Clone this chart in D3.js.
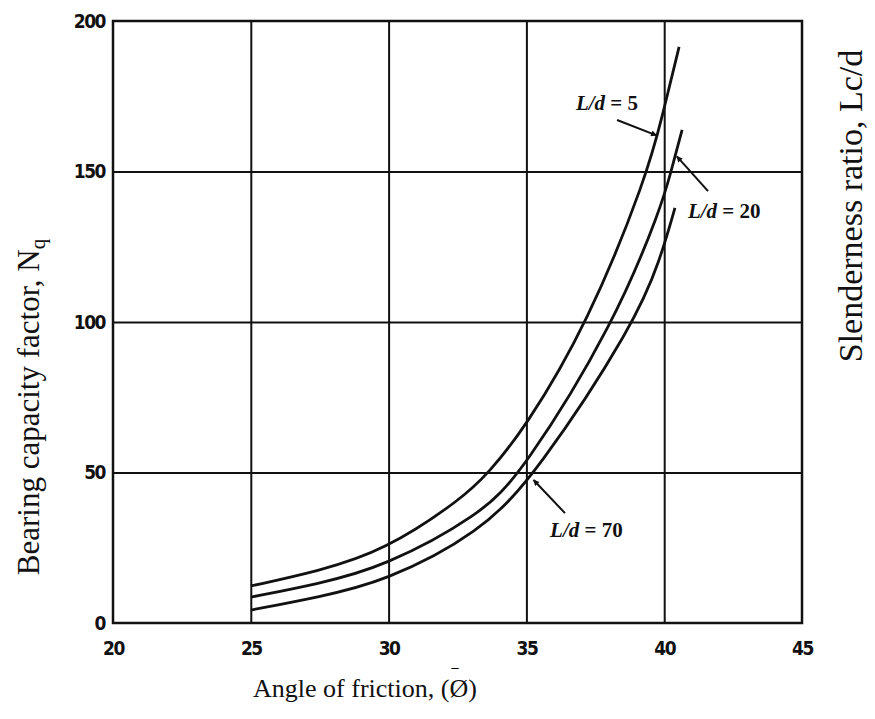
<!DOCTYPE html>
<html>
<head>
<meta charset="utf-8">
<script src="https://cdn.jsdelivr.net/npm/d3@7"></script>
<style>
  body { margin: 0; background: #fff; }
  .tick text { font-family: "DejaVu Sans Condensed", "DejaVu Sans", sans-serif; font-weight: bold; font-size: 19px; fill: #111; letter-spacing: -1.5px; }
  .title { font-family: "Liberation Serif", "Times New Roman", serif; fill: #111; }
  .ld { font-family: "Liberation Serif", serif; font-size: 21px; font-weight: bold; fill: #111; }
</style>
</head>
<body>
<div class="chart"></div>
<script>
// axis ticks
var phiTicks = [20, 25, 30, 35, 40, 45];
var nqTicks = [0, 50, 100, 150, 200];
var phiGrid = [25, 30, 35, 40];
var nqGrid = [50, 100, 150];

// curves (angle, Nq)
var ld5Phi = [25, 27.44, 29.83, 32.7, 33.61, 34.91, 37.24, 39.38, 39.92, 40.54];
var ld5Nq = [12.3, 17.2, 23.9, 41.5, 49.8, 64.1, 99.7, 148.8, 168, 191.4];
var ld20Phi = [25, 27.44, 29.83, 33.32, 34.84, 38.21, 39.92, 40.21, 40.65];
var ld20Nq = [8.6, 13.0, 18.6, 35.9, 49.8, 99.7, 139, 148.8, 163.8];
var ld70Phi = [25, 27.44, 29.83, 33.32, 35.38, 38.94, 39.85, 40.39];
var ld70Nq = [4.3, 8.6, 13.6, 29.9, 49.8, 99.7, 120.6, 137.9];

var curveNames = ["L/d = 5", "L/d = 20", "L/d = 70"];
var curves = [
  { name: curveNames[0], phi: ld5Phi, nq: ld5Nq },
  { name: curveNames[1], phi: ld20Phi, nq: ld20Nq },
  { name: curveNames[2], phi: ld70Phi, nq: ld70Nq }
];

// label + arrow positions in data units
var notes = [
  { text: "5", tx: 39.05, ty: 170.4, anchor: "end", x1: 38.29, y1: 167.1, x2: 39.72, y2: 162 },
  { text: "20", tx: 40.86, ty: 134.6, anchor: "start", x1: 41.59, y1: 143.5, x2: 40.46, y2: 155 },
  { text: "70", tx: 35.86, ty: 28.6, anchor: "start", x1: 36.40, y1: 36.5, x2: 35.26, y2: 47.5 }
];

var svgWidth = 875;
var svgHeight = 719;
var margin = { top: 21, right: 73, bottom: 96, left: 113 };
var width = svgWidth - margin.left - margin.right;
var height = svgHeight - margin.top - margin.bottom;

var svg = d3.select(".chart")
  .append("svg")
  .attr("width", svgWidth)
  .attr("height", svgHeight);

var chartGroup = svg.append("g")
  .attr("transform", `translate(${margin.left}, ${margin.top})`);

var xScale = d3.scaleLinear().domain([20, 45]).range([0, width]);
var yScale = d3.scaleLinear().domain([0, 200]).range([height, 0]);

// grid lines
chartGroup.append("g")
  .attr("transform", `translate(0, ${height})`)
  .call(d3.axisBottom(xScale).tickValues(phiGrid).tickSize(-height).tickFormat(""))
  .call(g => g.select(".domain").remove())
  .selectAll("line").attr("stroke", "#111").attr("stroke-width", 2);

chartGroup.append("g")
  .call(d3.axisLeft(yScale).tickValues(nqGrid).tickSize(-width).tickFormat(""))
  .call(g => g.select(".domain").remove())
  .selectAll("line").attr("stroke", "#111").attr("stroke-width", 2);

// frame
chartGroup.append("rect")
  .attr("width", width)
  .attr("height", height)
  .attr("fill", "none")
  .attr("stroke", "#111")
  .attr("stroke-width", 2.5);

// tick labels
chartGroup.append("g")
  .attr("transform", `translate(0, ${height})`)
  .call(d3.axisBottom(xScale).tickValues(phiTicks).tickSize(0).tickPadding(19))
  .call(g => g.select(".domain").remove());

chartGroup.append("g")
  .call(d3.axisLeft(yScale).tickValues(nqTicks).tickSize(0).tickPadding(8))
  .call(g => g.select(".domain").remove());

// curves (smoothed like the hand-drawn original)
var line = d3.line()
  .x(d => xScale(d[0]))
  .y(d => yScale(d[1]))
  .curve(d3.curveBasis);

chartGroup.selectAll(".curve")
  .data(curves)
  .enter()
  .append("path")
  .attr("class", "curve")
  .attr("d", c => line(c.phi.map((p, i) => [p, c.nq[i]])))
  .attr("fill", "none")
  .attr("stroke", "#111")
  .attr("stroke-width", 2.8);

// arrowhead
svg.append("defs").append("marker")
  .attr("id", "arrow")
  .attr("viewBox", "0 0 10 10")
  .attr("refX", 9)
  .attr("refY", 5)
  .attr("markerWidth", 8)
  .attr("markerHeight", 6)
  .attr("markerUnits", "userSpaceOnUse")
  .attr("orient", "auto")
  .append("path")
  .attr("d", "M0,0L10,5L0,10z")
  .attr("fill", "#111");

chartGroup.selectAll(".arrow")
  .data(notes)
  .enter()
  .append("line")
  .attr("x1", d => xScale(d.x1))
  .attr("y1", d => yScale(d.y1))
  .attr("x2", d => xScale(d.x2))
  .attr("y2", d => yScale(d.y2))
  .attr("stroke", "#111")
  .attr("stroke-width", 2)
  .attr("marker-end", "url(#arrow)");

var labels = chartGroup.selectAll(".ld")
  .data(notes)
  .enter()
  .append("text")
  .attr("class", "ld")
  .attr("x", d => xScale(d.tx))
  .attr("y", d => yScale(d.ty))
  .attr("text-anchor", d => d.anchor);
labels.append("tspan").attr("font-style", "italic").text("L/d");
labels.append("tspan").text(d => " = " + d.text);

// stray mark under the axis
svg.append("text")
  .attr("x", 455)
  .attr("y", 666)
  .attr("text-anchor", "middle")
  .attr("font-family", "DejaVu Sans")
  .attr("font-size", 14)
  .text("_");

// axis titles
svg.append("text")
  .attr("class", "title")
  .attr("font-size", 26)
  .attr("x", 365)
  .attr("y", 697)
  .attr("text-anchor", "middle")
  .text("Angle of friction, (Ø)");

var yTitle = svg.append("text")
  .attr("class", "title")
  .attr("font-size", 31)
  .attr("transform", "translate(39, 407) rotate(-90)")
  .attr("text-anchor", "middle");
yTitle.append("tspan").text("Bearing capacity factor, N");
yTitle.append("tspan").attr("font-size", 21).attr("dy", 6).text("q");

svg.append("text")
  .attr("class", "title")
  .attr("font-size", 34)
  .attr("transform", "translate(862, 206) rotate(-90)")
  .attr("text-anchor", "middle")
  .text("Slenderness ratio, Lc/d");
</script>
</body>
</html>
